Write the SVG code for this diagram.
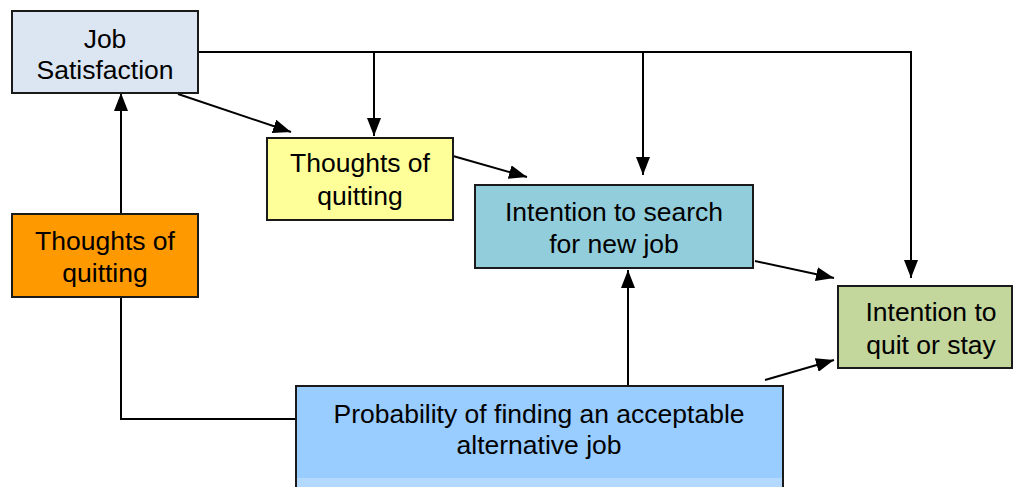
<svg xmlns="http://www.w3.org/2000/svg" width="1014" height="487" viewBox="0 0 1014 487">
<defs>
<marker id="ah" markerUnits="userSpaceOnUse" markerWidth="18" markerHeight="14" refX="18" refY="7" orient="auto">
<path d="M0,0 L18,7 L0,14 z" fill="#000"/>
</marker>
<style>
.box{stroke:#1a1a1a;stroke-width:2}
.t{font-family:"Liberation Sans",Arial,sans-serif;font-size:26.5px;fill:#000;text-anchor:middle}
.c{fill:none;stroke:#000;stroke-width:2}
</style>
</defs>
<rect width="1014" height="487" fill="#fff"/>
<g id="connectors">
<polyline class="c" points="198,52 911,52 911,278" marker-end="url(#ah)"/>
<line class="c" x1="374" y1="52" x2="374" y2="136" marker-end="url(#ah)"/>
<line class="c" x1="643" y1="52" x2="643" y2="175" marker-end="url(#ah)"/>
<line class="c" x1="178" y1="94" x2="291" y2="132" marker-end="url(#ah)"/>
<line class="c" x1="453" y1="156" x2="527" y2="177" marker-end="url(#ah)"/>
<line class="c" x1="755" y1="261" x2="834" y2="278" marker-end="url(#ah)"/>
<line class="c" x1="765" y1="380" x2="834" y2="360" marker-end="url(#ah)"/>
<line class="c" x1="628" y1="386" x2="628" y2="270" marker-end="url(#ah)"/>
<line class="c" x1="121" y1="214" x2="121" y2="93" marker-end="url(#ah)"/>
<polyline class="c" points="121,297 121,419 296,419"/>
</g>
<g id="job-satisfaction">
<rect class="box" x="12" y="11" width="186" height="82" fill="#dce6f2"/>
<text class="t" x="105" y="48">Job</text>
<text class="t" x="105" y="79">Satisfaction</text>
</g>
<g id="thoughts-yellow">
<rect class="box" x="267" y="138" width="186" height="82" fill="#ffff99"/>
<text class="t" x="360" y="172">Thoughts of</text>
<text class="t" x="360" y="205">quitting</text>
</g>
<g id="thoughts-orange">
<rect class="box" x="12" y="214" width="186" height="83" fill="#ff9900"/>
<text class="t" x="105" y="250">Thoughts of</text>
<text class="t" x="105" y="282">quitting</text>
</g>
<g id="intention-search">
<rect class="box" x="475" y="185" width="278" height="83" fill="#92cddc"/>
<text class="t" x="614" y="221">Intention to search</text>
<text class="t" x="614" y="253">for new job</text>
</g>
<g id="intention-quit">
<rect class="box" x="838" y="286" width="174" height="82" fill="#c3d69b"/>
<text class="t" x="931" y="321">Intention to</text>
<text class="t" x="931" y="354">quit or stay</text>
</g>
<g id="probability">
<rect class="box" x="296" y="386" width="487" height="110" fill="#99ccff"/>
<rect x="297" y="478" width="485" height="10" fill="#b3d9ff"/>
<text class="t" x="539" y="423">Probability of finding an acceptable</text>
<text class="t" x="539" y="454">alternative job</text>
</g>
</svg>
